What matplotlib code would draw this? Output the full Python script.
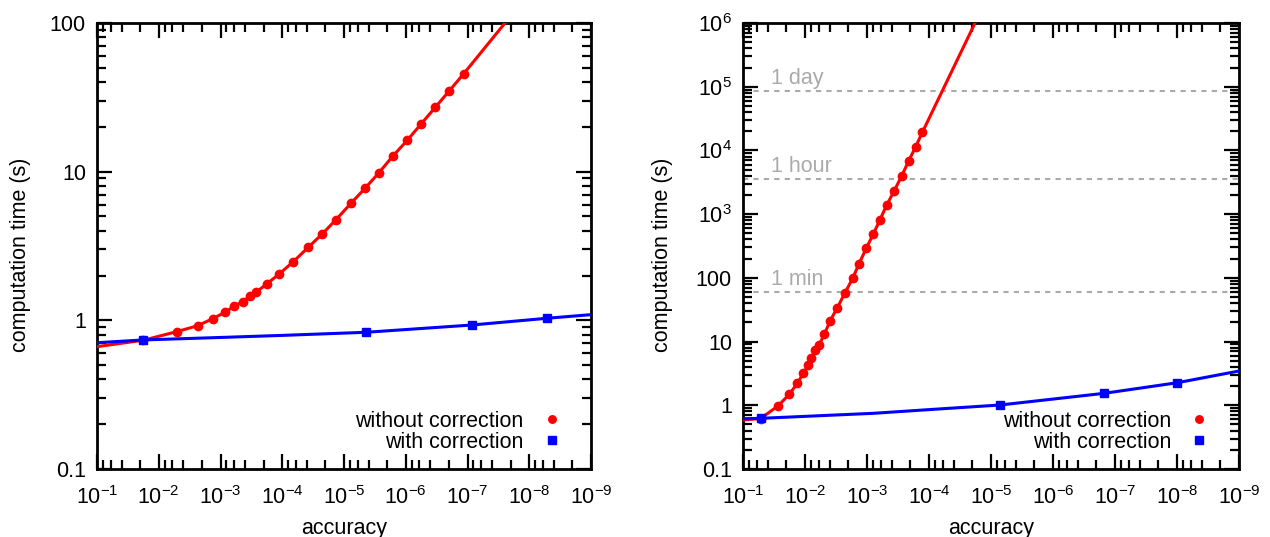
import matplotlib
matplotlib.use("Agg")
import matplotlib.pyplot as plt
from matplotlib.lines import Line2D
from matplotlib.ticker import FixedLocator, FixedFormatter, LogLocator, NullFormatter

plt.rcParams['font.family'] = ['Liberation Sans', 'DejaVu Sans']
plt.rcParams['mathtext.fontset'] = 'custom'
plt.rcParams['mathtext.rm'] = 'Liberation Sans'
plt.rcParams['mathtext.it'] = 'Liberation Sans:italic'
plt.rcParams['mathtext.bf'] = 'Liberation Sans:bold'

# ---- data ----
# left panel: short run
left_red_acc = [1.78e-2, 5.12e-3, 2.34e-3, 1.34e-3, 8.46e-4, 5.98e-4, 4.37e-4, 3.33e-4,
                2.66e-4, 1.79e-4, 1.12e-4, 6.62e-5, 3.79e-5, 2.25e-5, 1.35e-5, 7.70e-6,
                4.57e-6, 2.74e-6, 1.63e-6, 9.44e-7, 5.66e-7, 3.32e-7, 1.97e-7, 1.15e-7]
left_red_time = [0.735, 0.839, 0.920, 1.026, 1.132, 1.248, 1.335, 1.458,
                 1.544, 1.756, 2.05, 2.48, 3.10, 3.81, 4.75, 6.13,
                 7.73, 9.79, 12.69, 16.26, 20.9, 27.1, 35.0, 45.6]
left_blue_acc = [1.78e-2, 4.40e-6, 8.55e-8, 5.21e-9]
left_blue_time = [0.738, 0.831, 0.930, 1.032]

# fitted curves (knots)
left_red_fit_acc = [1e-1] + left_red_acc + [2.47e-8]
left_red_fit_time = [0.665] + left_red_time + [100]
left_blue_fit_acc = [1e-1, 1.78e-2, 1e-3, 1e-4, 4.40e-6, 8.55e-8, 5.21e-9, 1e-9]
left_blue_fit_time = [0.707, 0.738, 0.767, 0.792, 0.831, 0.930, 1.032, 1.092]

# right panel: long run
right_red_acc = [5.19e-2, 2.70e-2, 1.79e-2, 1.33e-2, 1.065e-2, 8.85e-3, 7.91e-3, 6.82e-3,
                 5.94e-3, 4.88e-3, 3.95e-3, 3.01e-3, 2.26e-3, 1.70e-3, 1.35e-3, 1.02e-3,
                 7.91e-4, 6.17e-4, 4.81e-4, 3.63e-4, 2.76e-4, 2.12e-4, 1.64e-4, 1.28e-4]
right_red_time = [0.62, 0.984, 1.49, 2.21, 3.17, 4.28, 5.46, 7.37,
                  8.83, 13.0, 21.0, 34.0, 58.4, 98.4, 165, 296,
                  488, 818, 1391, 2333, 3970, 6900, 11440, 19250]
right_blue_acc = [5.19e-2, 7.16e-6, 1.50e-7, 9.9e-9]
right_blue_time = [0.624, 1.01, 1.54, 2.26]

right_red_fit_acc = [1e-1] + right_red_acc + [1.81e-5]
right_red_fit_time = [0.587] + right_red_time + [1e6]
right_blue_fit_acc = [1e-1, 5.19e-2, 7.9e-4, 8.5e-5, 7.16e-6, 1.50e-7, 9.9e-9, 1e-9]
right_blue_fit_time = [0.615, 0.624, 0.748, 0.864, 1.01, 1.54, 2.26, 3.45]

# reference times (s)
ref_times = [60, 3600, 86400]
ref_labels = ['1 min', '1 hour', '1 day']

# ticks
acc_ticks = [10.0 ** -k for k in range(1, 10)]
acc_labels = [r'$\mathregular{10^{-%d}}$' % k for k in range(1, 10)]
left_yticks = [0.1, 1, 10, 100]
left_ylabels = ['0.1', '1', '10', '100']
right_yticks = [0.1, 1, 10, 100, 1e3, 1e4, 1e5, 1e6]
right_ylabels = ['0.1', '1', '10', '100', r'$\mathregular{10^{3}}$', r'$\mathregular{10^{4}}$',
                 r'$\mathregular{10^{5}}$', r'$\mathregular{10^{6}}$']

legend_labels = ['without correction', 'with correction']

FS = 15.5
RED = '#ff0000'
BLUE = '#0000ff'
GREY = '#aaaaaa'


def style(ax, ylim, yticks, ylabels, ylab_x):
    ax.set_xscale('log')
    ax.set_yscale('log')
    ax.set_xlim(1e-1, 1e-9)
    ax.set_ylim(*ylim)
    ax.xaxis.set_major_locator(FixedLocator(acc_ticks))
    ax.xaxis.set_major_formatter(FixedFormatter(acc_labels))
    ax.xaxis.set_minor_locator(LogLocator(base=10, subs=(2, 4, 6, 8), numticks=60))
    ax.xaxis.set_minor_formatter(NullFormatter())
    ax.yaxis.set_major_locator(FixedLocator(yticks))
    ax.yaxis.set_major_formatter(FixedFormatter(ylabels))
    ax.yaxis.set_minor_locator(LogLocator(base=10, subs=range(2, 10), numticks=60))
    ax.yaxis.set_minor_formatter(NullFormatter())
    ax.tick_params(which='both', direction='in', top=True, right=True, width=1.6,
                   labelsize=FS)
    ax.tick_params(which='major', length=11)
    ax.tick_params(which='minor', length=6.5)
    ax.tick_params(axis='x', which='major', pad=12)
    ax.tick_params(axis='y', which='major', pad=8)
    for s in ax.spines.values():
        s.set_linewidth(2)
    ax.set_xlabel('accuracy', fontsize=FS)
    ax.xaxis.set_label_coords(0.5, -0.11)
    ax.set_ylabel('computation time (s)', fontsize=FS)
    ax.yaxis.set_label_coords(ylab_x, 0.48)


def draw(ax, rfa, rft, ra, rt, bfa, bft, ba, bt):
    ax.plot(rfa, rft, color=RED, lw=2.2, zorder=3)
    ax.plot(ra, rt, ls='none', marker='o', ms=6, color=RED, zorder=4)
    ax.plot(bfa, bft, color=BLUE, lw=2.2, zorder=5)
    ax.plot(ba, bt, ls='none', marker='s', ms=5.8, color=BLUE, zorder=6)
    handles = [Line2D([], [], ls='none', marker='o', ms=5.4, color=RED),
               Line2D([], [], ls='none', marker='s', ms=5.2, color=BLUE)]
    ax.legend(handles, legend_labels, loc='lower right', bbox_to_anchor=(0.942, 0.036),
              borderaxespad=0, borderpad=0, frameon=False, markerfirst=False,
              handlelength=1.0, handletextpad=0.8, labelspacing=0.0, fontsize=FS)


fig = plt.figure(figsize=(12.7, 5.37), dpi=100)
ax1 = fig.add_axes([97 / 1270, 68 / 537, 494 / 1270, 446 / 537])
ax2 = fig.add_axes([743 / 1270, 68 / 537, 496 / 1270, 446 / 537])

style(ax1, (0.1, 100), left_yticks, left_ylabels, -0.134)
style(ax2, (0.1, 1e6), right_yticks, right_ylabels, -0.141)

draw(ax1, left_red_fit_acc, left_red_fit_time, left_red_acc, left_red_time,
     left_blue_fit_acc, left_blue_fit_time, left_blue_acc, left_blue_time)
draw(ax2, right_red_fit_acc, right_red_fit_time, right_red_acc, right_red_time,
     right_blue_fit_acc, right_blue_fit_time, right_blue_acc, right_blue_time)

for t, lab in zip(ref_times, ref_labels):
    ax2.axhline(t, color=GREY, lw=1.5, dashes=(2.5, 2.5), zorder=1)
    ax2.annotate(lab, xy=(0.056, t), xycoords=ax2.get_yaxis_transform(),
                 xytext=(0, 5), textcoords='offset points', va='baseline', ha='left',
                 color=GREY, fontsize=FS)

fig.savefig('out.png', dpi=100)
